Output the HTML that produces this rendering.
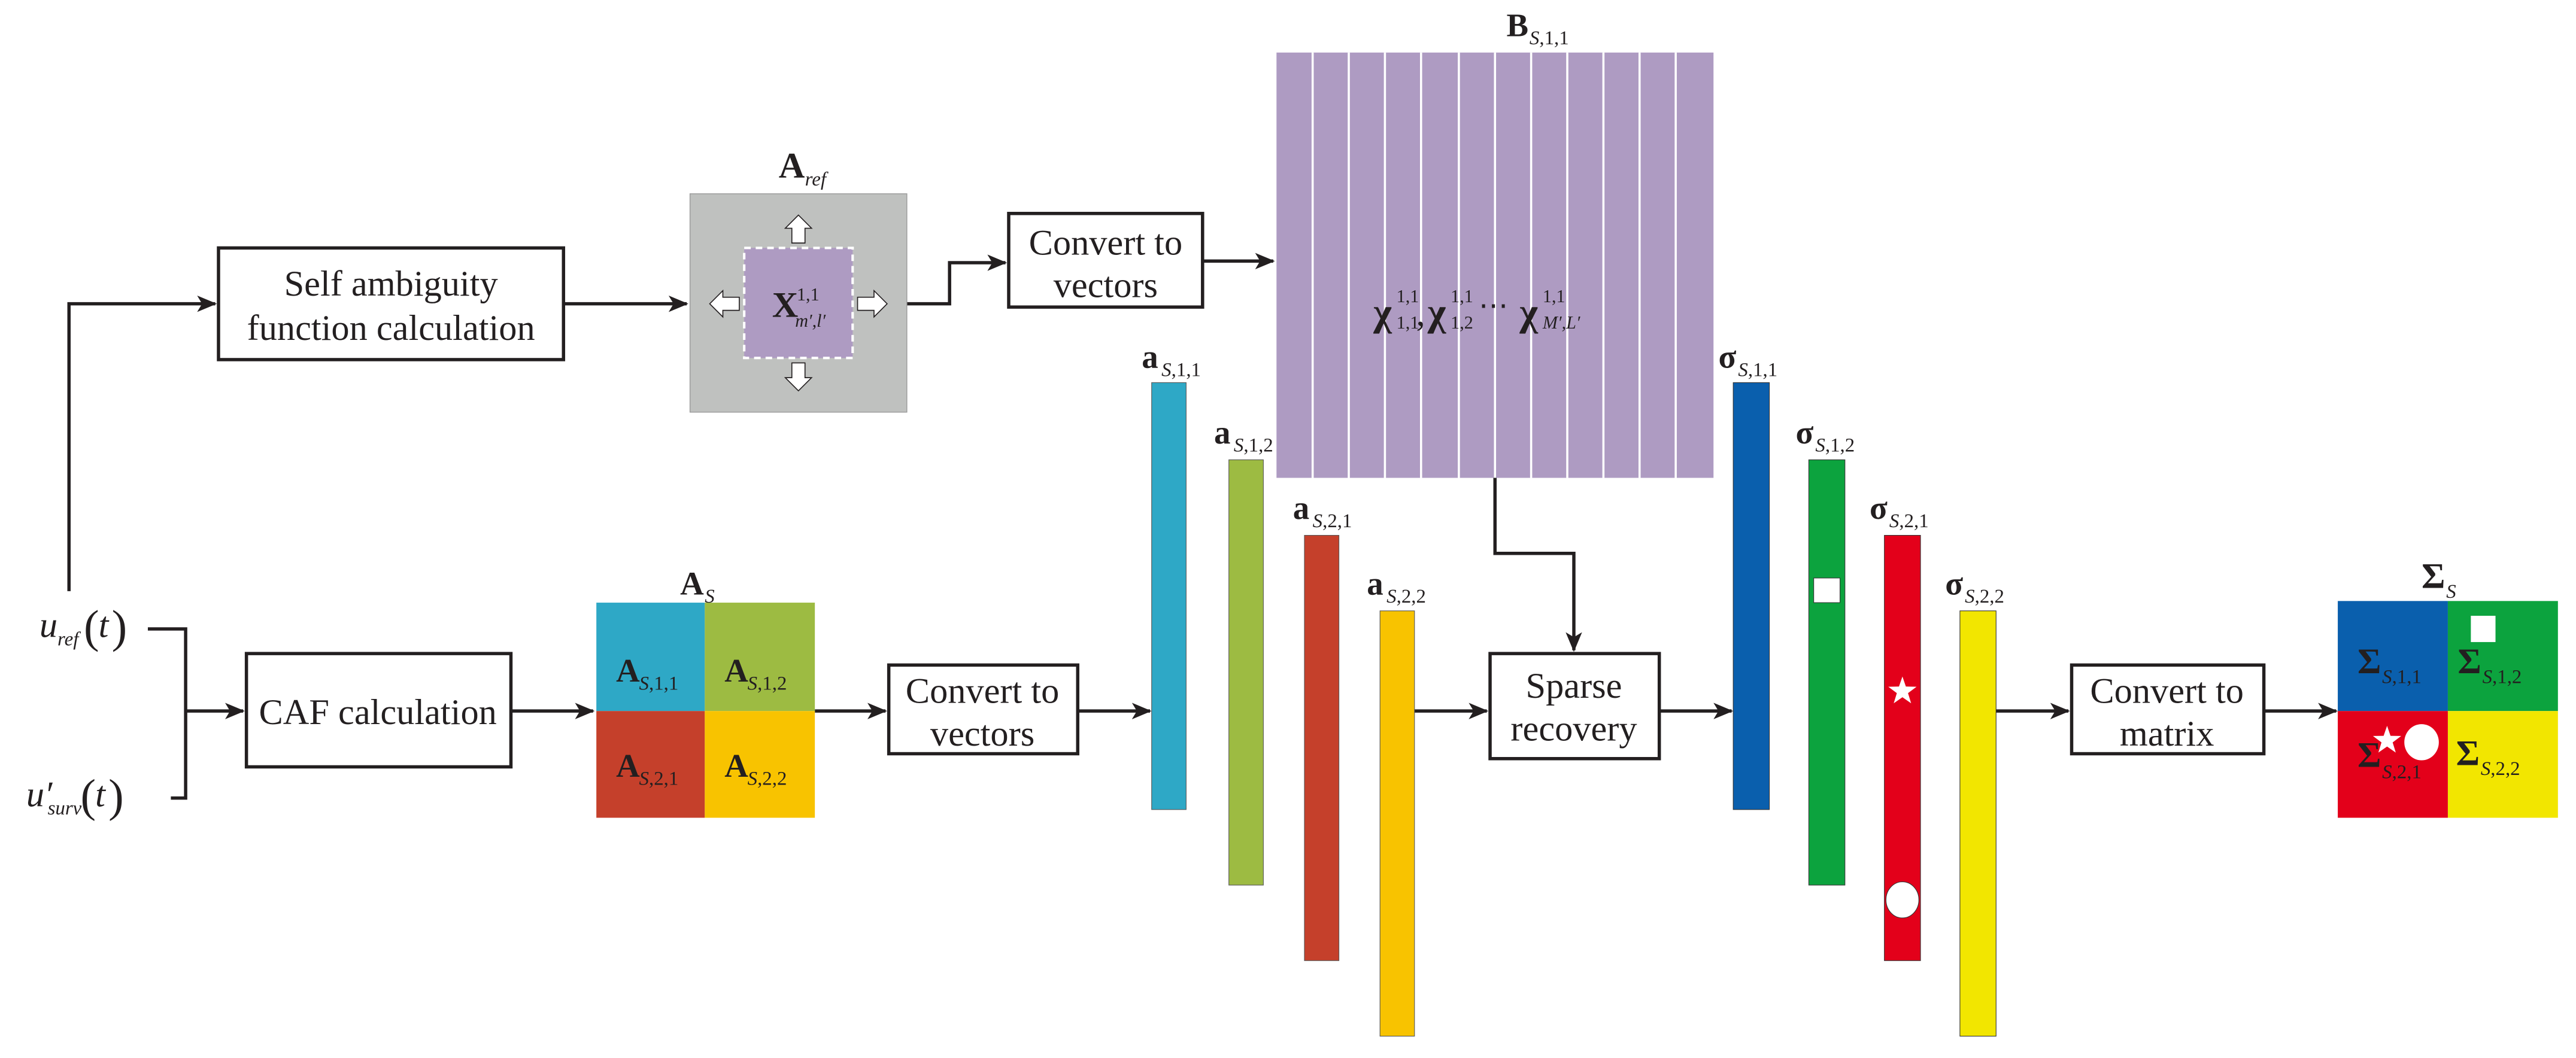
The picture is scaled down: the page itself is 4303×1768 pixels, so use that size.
<!DOCTYPE html>
<html><head><meta charset="utf-8"><style>
html,body{margin:0;padding:0;background:#fff;}
svg{display:block;}
svg text{font-family:"Liberation Serif","DejaVu Serif",serif;fill:#231f20;}
.b{font-weight:bold;}
.i{font-style:italic;}
</style></head><body>
<svg width="4303" height="1768" viewBox="0 0 1568 644.3" preserveAspectRatio="none" xmlns="http://www.w3.org/2000/svg" font-family="Liberation Serif, DejaVu Serif, serif">
<defs>
<marker id="ar" markerWidth="12" markerHeight="10" refX="11" refY="5" orient="auto" markerUnits="userSpaceOnUse">
<path d="M0,0 L12,5 L0,10 L3,5 Z" fill="#231f20"/>
</marker>
<path id="star" d="M0,-9 L2.1,-2.9 L8.6,-2.8 L3.4,1.1 L5.3,7.3 L0,3.6 L-5.3,7.3 L-3.4,1.1 L-8.6,-2.8 L-2.1,-2.9 Z" fill="#fff"/>
</defs>
<g stroke="#231f20" stroke-width="2" fill="none">
<polyline points="42,360 42,185 131,185" marker-end="url(#ar)"/>
<polyline points="90,383 113,383 113,486 104,486"/>
<line x1="113" y1="433" x2="148" y2="433" marker-end="url(#ar)"/>
<line x1="343" y1="185" x2="418" y2="185" marker-end="url(#ar)"/>
<polyline points="540,185 578,185 578,160 612,160" marker-end="url(#ar)"/>
<line x1="732" y1="159" x2="775" y2="159" marker-end="url(#ar)"/>
<line x1="311" y1="433" x2="361" y2="433" marker-end="url(#ar)"/>
<line x1="496" y1="433" x2="539" y2="433" marker-end="url(#ar)"/>
<line x1="656" y1="433" x2="700" y2="433" marker-end="url(#ar)"/>
<polyline points="910,291 910,337 958,337 958,396" marker-end="url(#ar)"/>
<line x1="861" y1="433" x2="905" y2="433" marker-end="url(#ar)"/>
<line x1="1010" y1="433" x2="1054" y2="433" marker-end="url(#ar)"/>
<line x1="1215" y1="433" x2="1259" y2="433" marker-end="url(#ar)"/>
<line x1="1378" y1="433" x2="1422" y2="433" marker-end="url(#ar)"/>
<rect x="133" y="151" width="210" height="68" fill="#fff"/>
<rect x="614" y="130" width="118" height="57" fill="#fff"/>
<rect x="150" y="398" width="161" height="69" fill="#fff"/>
<rect x="541" y="405" width="115" height="54" fill="#fff"/>
<rect x="907" y="398" width="103" height="64" fill="#fff"/>
<rect x="1261" y="405" width="117" height="54" fill="#fff"/>
</g>
<g font-size="22" text-anchor="middle">
<text x="238" y="180">Self ambiguity</text>
<text x="238" y="207">function calculation</text>
<text x="673" y="155">Convert to</text>
<text x="673" y="181">vectors</text>
<text x="230" y="441">CAF calculation</text>
<text x="598" y="428">Convert to</text>
<text x="598" y="454">vectors</text>
<text x="958" y="425">Sparse</text>
<text x="958" y="451">recovery</text>
<text x="1319" y="428">Convert to</text>
<text x="1319" y="454">matrix</text>
</g>
<text x="24" y="388" font-size="22" class="i">u</text><text x="35" y="393" font-size="12" class="i">ref</text>
<text x="51" y="391" font-size="28">(</text><text x="60" y="388" font-size="22" class="i">t</text><text x="68" y="391" font-size="28">)</text>
<text x="16" y="491" font-size="22" class="i">u′</text><text x="29" y="496" font-size="12" class="i">surv</text>
<text x="49" y="494" font-size="28">(</text><text x="58" y="491" font-size="22" class="i">t</text><text x="66" y="494" font-size="28">)</text>
<rect x="420" y="118" width="132" height="133" fill="#bfc1bf" stroke="#999" stroke-width="0.5"/>
<rect x="453" y="151" width="66" height="67" fill="#ae9bc2" stroke="#fff" stroke-width="1.5" stroke-dasharray="4,3"/>
<g fill="#fff" stroke="#231f20" stroke-width="0.6">
<path d="M486,131 L494,139 L490,139 L490,148 L482,148 L482,139 L478,139 Z"/>
<path d="M486,238 L494,230 L490,230 L490,221 L482,221 L482,230 L478,230 Z"/>
<path d="M432,185 L440,177 L440,181 L450,181 L450,189 L440,189 L440,193 Z"/>
<path d="M540,185 L532,177 L532,181 L522,181 L522,189 L532,189 L532,193 Z"/>
</g>
<text x="470" y="193" font-size="22" class="b">X</text><text x="485" y="183" font-size="11">1,1</text><text x="484" y="199" font-size="11" class="i">m′,l′</text>
<text x="474" y="108" font-size="22" class="b">A</text><text x="490" y="113" font-size="12" class="i">ref</text>
<rect x="777" y="32" width="266" height="259" fill="#ae9bc2"/>
<g stroke="#fff" stroke-width="1.3">
<line x1="799" y1="32" x2="799" y2="291"/><line x1="821" y1="32" x2="821" y2="291"/><line x1="843" y1="32" x2="843" y2="291"/>
<line x1="865" y1="32" x2="865" y2="291"/><line x1="888" y1="32" x2="888" y2="291"/><line x1="910" y1="32" x2="910" y2="291"/>
<line x1="932" y1="32" x2="932" y2="291"/><line x1="954" y1="32" x2="954" y2="291"/><line x1="976" y1="32" x2="976" y2="291"/>
<line x1="998" y1="32" x2="998" y2="291"/><line x1="1020" y1="32" x2="1020" y2="291"/>
</g>
<text x="836" y="198" font-size="24" class="b">χ</text><text x="850" y="184" font-size="11">1,1</text><text x="850" y="200" font-size="11">1,1</text><text x="862" y="198" font-size="22">,</text>
<text x="869" y="198" font-size="24" class="b">χ</text><text x="883" y="184" font-size="11">1,1</text><text x="883" y="200" font-size="11">1,2</text>
<text x="900" y="192" font-size="18">⋯</text>
<text x="925" y="198" font-size="24" class="b">χ</text><text x="939" y="184" font-size="11">1,1</text><text x="939" y="200" font-size="11" class="i">M′,L′</text>
<text x="917" y="22" font-size="20" class="b">B</text><text x="931" y="27" font-size="12"><tspan class="i">S</tspan>,1,1</text>
<rect x="363" y="367" width="66" height="66" fill="#2ea8c6"/>
<rect x="429" y="367" width="67" height="66" fill="#9dbb42"/>
<rect x="363" y="433" width="66" height="65" fill="#c5402b"/>
<rect x="429" y="433" width="67" height="65" fill="#f8c300"/>
<g font-size="20" class="b">
<text x="375" y="415">A</text><text x="441" y="415">A</text><text x="375" y="473">A</text><text x="441" y="473">A</text>
<text x="414" y="362">A</text>
</g>
<g font-size="12">
<text x="389" y="420"><tspan class="i">S</tspan>,1,1</text><text x="455" y="420"><tspan class="i">S</tspan>,1,2</text>
<text x="389" y="478"><tspan class="i">S</tspan>,2,1</text><text x="455" y="478"><tspan class="i">S</tspan>,2,2</text>
<text x="429" y="367" class="i">S</text>
</g>
<rect x="701" y="233" width="21" height="260" fill="#2ea8c6" stroke="#555" stroke-width="0.4"/>
<rect x="748" y="280" width="21" height="259" fill="#9dbb42" stroke="#555" stroke-width="0.4"/>
<rect x="794" y="326" width="21" height="259" fill="#c5402b" stroke="#555" stroke-width="0.4"/>
<rect x="840" y="372" width="21" height="259" fill="#f8c300" stroke="#555" stroke-width="0.4"/>
<g font-size="20" class="b"><text x="695" y="224">a</text><text x="739" y="270">a</text><text x="787" y="316">a</text><text x="832" y="362">a</text></g>
<g font-size="12"><text x="707" y="229"><tspan class="i">S</tspan>,1,1</text><text x="751" y="275"><tspan class="i">S</tspan>,1,2</text><text x="799" y="321"><tspan class="i">S</tspan>,2,1</text><text x="844" y="367"><tspan class="i">S</tspan>,2,2</text></g>
<rect x="1055" y="233" width="22" height="260" fill="#0a5fad" stroke="#333" stroke-width="0.4"/>
<rect x="1101" y="280" width="22" height="259" fill="#0ca33e" stroke="#333" stroke-width="0.4"/>
<rect x="1147" y="326" width="22" height="259" fill="#e3001a" stroke="#333" stroke-width="0.4"/>
<rect x="1193" y="372" width="22" height="259" fill="#f2e600" stroke="#333" stroke-width="0.4"/>
<rect x="1104" y="352" width="16" height="15" fill="#fff" stroke="#333" stroke-width="0.4"/>
<use href="#star" x="1158" y="421"/>
<ellipse cx="1158" cy="548" rx="10" ry="11" fill="#fff" stroke="#333" stroke-width="0.4"/>
<g font-size="20" class="b"><text x="1046" y="224">σ</text><text x="1093" y="270">σ</text><text x="1138" y="316">σ</text><text x="1184" y="362">σ</text></g>
<g font-size="12"><text x="1058" y="229"><tspan class="i">S</tspan>,1,1</text><text x="1105" y="275"><tspan class="i">S</tspan>,1,2</text><text x="1150" y="321"><tspan class="i">S</tspan>,2,1</text><text x="1196" y="367"><tspan class="i">S</tspan>,2,2</text></g>
<rect x="1423" y="366" width="67" height="67" fill="#0a5fad"/>
<rect x="1490" y="366" width="67" height="67" fill="#0ca33e"/>
<rect x="1423" y="433" width="67" height="65" fill="#e3001a"/>
<rect x="1490" y="433" width="67" height="65" fill="#f2e600"/>
<g font-size="22" class="b"><text x="1435" y="410">Σ</text><text x="1496" y="410">Σ</text><text x="1435" y="467">Σ</text><text x="1495" y="466">Σ</text><text x="1474" y="358">Σ</text></g>
<g font-size="12"><text x="1450" y="416"><tspan class="i">S</tspan>,1,1</text><text x="1511" y="416"><tspan class="i">S</tspan>,1,2</text><text x="1450" y="474"><tspan class="i">S</tspan>,2,1</text><text x="1510" y="472"><tspan class="i">S</tspan>,2,2</text><text x="1489" y="364" class="i">S</text></g>
<rect x="1504" y="375" width="15" height="16" fill="#fff"/>
<use href="#star" x="1453" y="451"/>
<ellipse cx="1474" cy="452" rx="10.5" ry="11" fill="#fff"/>
</svg>
</body></html>
